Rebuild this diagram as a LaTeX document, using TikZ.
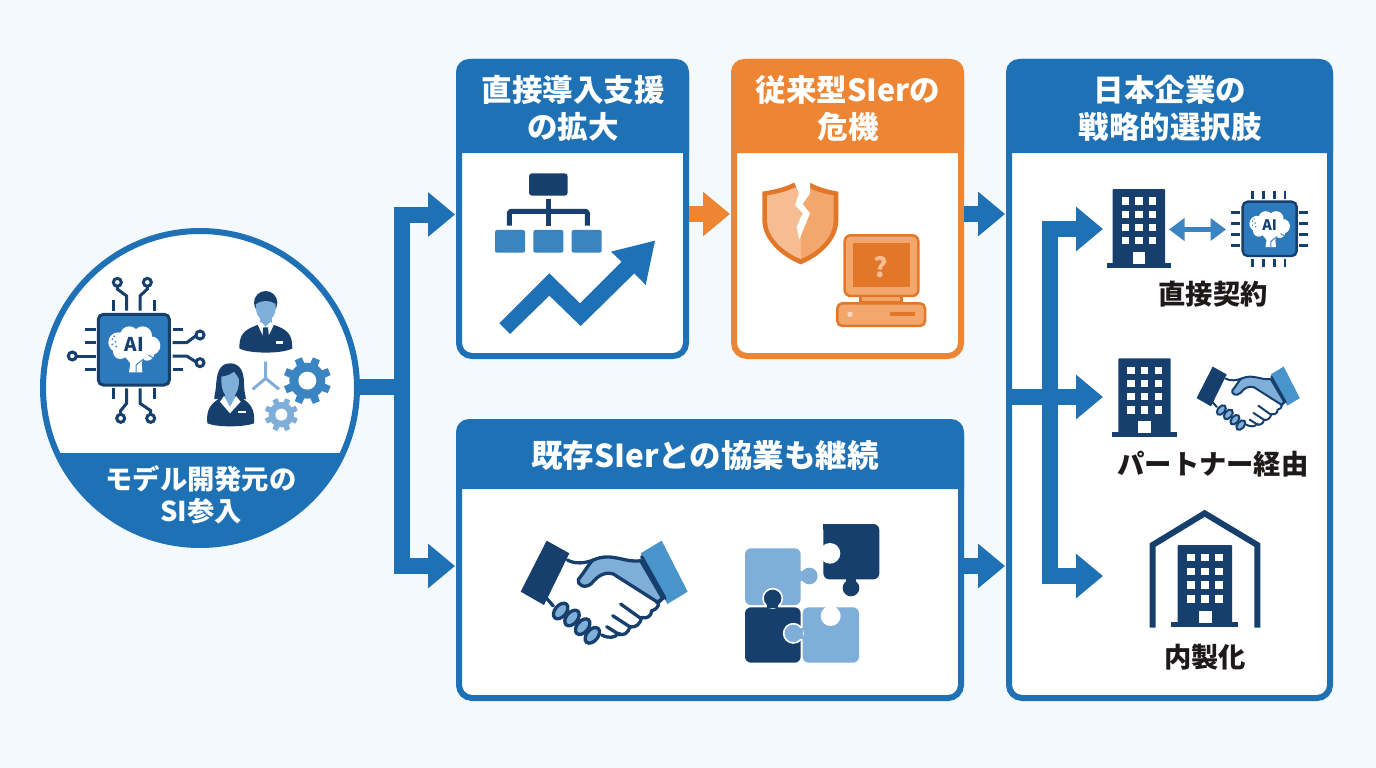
\documentclass[tikz,border=0pt]{standalone}
\usepackage{fontspec}
\usetikzlibrary{arrows.meta,calc}
\newfontfamily\cjk{Noto Sans CJK JP}
\setmainfont{Noto Sans CJK JP}
\definecolor{bgc}{HTML}{F4F9FD}
\definecolor{mainb}{HTML}{1E71B5}
\definecolor{navyb}{HTML}{163F6E}
\definecolor{midb}{HTML}{3A84C2}
\definecolor{lightb}{HTML}{7FAED8}
\definecolor{cuffb}{HTML}{4A94CC}
\definecolor{chipb}{HTML}{2C79BC}
\definecolor{orangem}{HTML}{EE8533}
\definecolor{oranged}{HTML}{E2772A}
\definecolor{orangel}{HTML}{F7BD92}
\definecolor{orangen}{HTML}{F3A76C}
\definecolor{inkc}{HTML}{1E1A1A}
\tikzset{
  cardbox/.style={draw=#1,fill=white,line width=6pt,rounded corners=13pt,inner sep=0pt,outer sep=0pt},
  headtxt/.style={text=white,align=center,inner sep=0pt,font=\cjk\bfseries\fontsize{30.5}{37}\selectfont},
  captxt/.style={text=white,align=center,inner sep=0pt,font=\cjk\bfseries\fontsize{27.3}{32}\selectfont},
  labtxt/.style={text=inkc,align=center,inner sep=0pt,font=\cjk\bfseries\fontsize{27.3}{32}\selectfont},
  conn/.style={draw=mainb,line width=16pt,line join=miter,line cap=butt},
  tipped/.style={conn,-{Triangle[length=27pt,width=43pt]}},
  tippedo/.style={tipped,draw=orangem,fill=orangem},
  zoomed/.style={x=0.33333pt,y=-0.33333pt},
  navyline/.style={draw=navyb,line width=3pt,line cap=butt},
  ringpin/.style={draw=navyb,line width=3pt,fill=white},
}
% building: top-left of body, scale
\newcommand{\bldg}[3]{%
\begin{scope}[shift={(#1,#2)},scale=#3]
\fill[navyb,rounded corners=1pt] (0,0) rectangle (52.3,76);
\fill[navyb] (-6,74) rectangle (58.3,79);
\foreach \cx in {9,22.7,36.3}\foreach \cy in {8.3,21.7,34.7,48}{\fill[white] (\cx,\cy) rectangle ++(7.3,7.3);}
\fill[white] (20,63) rectangle (32.7,75);
\end{scope}}
% brain at centre, in zoomed scope
\newcommand{\brainai}[4]{%
\begin{scope}[shift={(#1,#2)},scale=#3]
\fill[white] (-48,-18) circle (30) (-15,-38) circle (28) (25,-38) circle (28) (50,-8) circle (28) (-42,10) circle (22) (0,-5) circle (42) (38,15) circle (22);
\fill[white] (-28,25) -- (28,25) -- (22,45) -- (24,72) -- (-16,72) -- (-12,45) -- cycle;
\draw[midb,line width=1pt] (5,72) -- (5,50) -- (28,32) (42,20) -- (55,28);
\fill[midb] (-66,-28) circle (3) (-56,-20) circle (3) (-66,-12) circle (3) (-54,-6) circle (3) (-60,-36) circle (3);
\end{scope}
\node[inner sep=0pt,text=navyb,font=\cjk\bfseries\fontsize{#4}{#4}\selectfont] at (#1,#2-13*#3) {AI};}
% handshake in the coordinates of a 3x crop
\newcommand{\shake}[4]{%
\begin{scope}[shift={(#1,#2)},x=#3pt,y=-#3pt]
\fill[navyb] (110,32) -- (178,70) -- (102,225) -- (32,185) -- cycle;
\fill[cuffb] (392,70) -- (455,32) -- (533,185) -- (472,222) -- cycle;
\draw[navyb,line width=#4pt,line cap=round,line join=round,fill=white] (445,215) .. controls (448,232) and (435,240) .. (425,242) .. controls (425,258) and (410,268) .. (395,262) .. controls (392,282) and (375,295) .. (360,290) .. controls (355,310) and (338,320) .. (325,310) .. controls (315,325) and (295,325) .. (275,315);
\draw[navyb,line width=#4pt,line cap=round,fill=lightb,line join=round] (392,92) .. controls (345,100) and (305,65) .. (250,90) .. controls (240,95) and (225,125) .. (205,148) .. controls (200,165) and (225,178) .. (245,160) .. controls (265,135) and (285,125) .. (310,132) -- (445,218) -- (458,205) -- cycle;
\draw[navyb,line width=#4pt,line cap=round] (172,90) .. controls (195,103) and (225,100) .. (250,90);
\draw[navyb,line width=#4pt,line cap=round] (110,205) -- (130,228);
\draw[navyb,line width=#4pt,line cap=round] (395,80) -- (465,205);
\draw[navyb,line width=#4pt,line cap=round] (458,205) -- (440,218);
\draw[navyb,line width=#4pt,line cap=round] (332,222) -- (392,265) (308,257) -- (362,292) (290,290) -- (330,315);
\foreach \ex/\ey in {152/243,186/264,218/290,247/316}{
\draw[navyb,line width=#4pt,fill=lightb,shift={(\ex,\ey)},rotate=50] (0,0) ellipse (27 and 17);}
\end{scope}}
\newcommand{\cog}[7]{%
\begin{scope}[shift={(#1,#2)}]
\fill[#7] (0,0) circle (#4);
\foreach \a in {0,45,...,315}{\fill[#7,rotate=\a+22.5] (-#6,0) -- (-#6*0.8,#3) -- (#6*0.8,#3) -- (#6,0) -- cycle;}
\fill[white] (0,0) circle (#5);
\end{scope}}
\newcommand{\shieldpath}{(937,425) .. controls (970,420) and (1005,412) .. (1032,398) -- (1080,398) .. controls (1105,412) and (1135,420) .. (1165,425) -- (1165,510) .. controls (1165,570) and (1110,620) .. (1052,643) .. controls (995,620) and (937,570) .. (937,510) -- cycle}
\begin{document}
\begin{tikzpicture}[x=1pt,y=-1pt]
\useasboundingbox (0,0) rectangle (1376,768);
\fill[bgc] (0,0) rectangle (1376,768);

% cards
\node[cardbox=mainb,minimum width=227pt,minimum height=294pt] (c1) at (572.5,209) {};
\node[cardbox=orangem,minimum width=227pt,minimum height=294pt] (c2) at (847.5,209) {};
\node[cardbox=mainb,minimum width=321pt,minimum height=636pt] (c3) at (1169.5,380) {};
\node[cardbox=mainb,minimum width=502pt,minimum height=276pt] (c4) at (710,560) {};
\fill[mainb] (456,153) [rounded corners=13pt] -- (456,59) -- (689,59) [sharp corners] -- (689,153) -- cycle;
\fill[orangem] (731,153) [rounded corners=13pt] -- (731,59) -- (964,59) [sharp corners] -- (964,153) -- cycle;
\fill[mainb] (1006,153) [rounded corners=13pt] -- (1006,59) -- (1333,59) [sharp corners] -- (1333,153) -- cycle;
\fill[mainb] (456,489) [rounded corners=13pt] -- (456,419) -- (964,419) [sharp corners] -- (964,489) -- cycle;
\node[headtxt] (t1) at (573,108) {直接導入支援\\の拡大};
\node[headtxt] (t2) at (848,108) {従来型SIerの\\危機};
\node[headtxt] (t3) at (1170,108) {日本企業の\\戦略的選択肢};
\node[headtxt,font=\cjk\bfseries\fontsize{31.5}{37}\selectfont] (t4) at (705,456) {既存SIerとの協業も継続};

% circle
\node[circle,draw=mainb,fill=white,line width=6pt,minimum size=314pt,inner sep=0pt,outer sep=0pt] (circ) at (200,388) {};
\begin{scope}
\clip (200,388) circle (157);
\fill[mainb] (30,453) rectangle (370,560);
\end{scope}
\node[captxt] (t5) at (201,495) {モデル開発元の\\SI参入};

% connectors
\coordinate (hubL) at (402,387);
\draw[conn] (hubL -| circ.east) -- (hubL);
\draw[tipped,shorten >=4pt] (hubL) |- ([yshift=-5.5pt]c1.west);
\draw[tipped,shorten >=4pt] (hubL) |- ([yshift=-6pt]c4.west);
\draw[tippedo,shorten <=3pt,shorten >=4pt] ([yshift=-5pt]c1.east) -- ([yshift=-5pt]c2.west);
\path ([yshift=-5pt]c2.east) coordinate (s23);
\draw[tipped,shorten <=3pt,shorten >=4pt] (s23) -- (s23 -| c3.west);
\path ([yshift=-6pt]c4.east) coordinate (s43);
\draw[tipped,shorten <=3pt,shorten >=4pt] (s43) -- (s43 -| c3.west);
\coordinate (hubR) at (1049.5,397);
\coordinate (q1) at (1103,229);
\coordinate (q2) at (1103,397);
\coordinate (q3) at (1103,576);
\draw[tipped] (hubR -| c3.west) -- (q2);
\draw[tipped] (hubR) |- (q1);
\draw[tipped] (hubR) |- (q3);

% left chip
\begin{scope}[shift={(30,220)},zoomed]
\draw[navyline] (250,240) -- (250,272) (373,240) -- (373,272) (250,505) -- (250,537) (373,505) -- (373,537);
\draw[navyline] (165,327) -- (197,327) (165,368) -- (197,368) (165,447) -- (197,447) (428,327) -- (460,327) (428,447) -- (460,447);
\draw[navyline] (262,199) -- (262,207) -- (290,228) -- (290,272);
\draw[navyline] (352,199) -- (352,207) -- (330,228) -- (330,272);
\draw[navyline] (290,505) -- (290,550) -- (272,572) -- (272,583);
\draw[navyline] (330,505) -- (330,550) -- (362,572) -- (362,583);
\draw[navyline] (139,408) -- (197,408);
\draw[navyline] (428,368) -- (470,368) -- (497,348);
\draw[navyline] (428,408) -- (470,408) -- (497,425);
\draw[ringpin] (262,187) circle (12) (352,187) circle (12) (272,595) circle (12) (362,595) circle (12) (127,408) circle (12) (510,345) circle (12) (510,428) circle (12);
\draw[navyb,fill=chipb,line width=3pt,rounded corners=5pt] (205,283) rectangle (418,495);
\brainai{313}{385}{1}{19}
% people
\draw[lightb,line width=3pt] (707,425) -- (707,475) (668,508) -- (707,475) -- (747,508);
\fill[navyb] (707,248) circle (35);
\fill[lightb] (678,252) .. controls (695,240) and (720,240) .. (737,252) -- (737,270) .. controls (732,295) and (716,305) .. (707,305) .. controls (698,305) and (683,295) .. (678,270) -- cycle;
\fill[navyb] (628,385) .. controls (628,345) and (640,330) .. (682,315) -- (733,315) .. controls (775,330) and (787,345) .. (787,385) .. controls (760,402) and (655,402) .. (628,385) -- cycle;
\fill[lightb] (690,290) rectangle (725,318);
\fill[white] (684,316) -- (692,306) -- (707,320) -- (722,306) -- (731,316) -- (707,365) -- cycle;
\fill[navyb] (700,322) -- (714,322) -- (717,352) -- (707,370) -- (697,352) -- cycle;
\fill[white] (738,364) -- (760,364) -- (760,371) -- (738,371) -- cycle;
\fill[navyb] (600,430) .. controls (565,430) and (560,465) .. (558,500) .. controls (556,520) and (552,530) .. (553,537) -- (648,537) .. controls (645,520) and (642,510) .. (642,490) .. controls (642,455) and (630,430) .. (600,430) -- cycle;
\fill[navyb] (532,610) .. controls (528,570) and (540,550) .. (578,530) -- (628,530) .. controls (665,550) and (675,570) .. (672,610) .. controls (640,622) and (560,622) .. (532,610) -- cycle;
\fill[lightb] (574,470) .. controls (590,468) and (605,462) .. (612,455) .. controls (618,465) and (625,470) .. (627,478) .. controls (628,510) and (615,532) .. (600,535) .. controls (585,532) and (572,510) .. (574,470) -- cycle;
\fill[lightb] (585,515) rectangle (615,550);
\fill[white] (570,545) -- (582,528) -- (600,558) -- (618,528) -- (632,545) -- (600,580) -- cycle;
\fill[lightb] (582,528) -- (618,528) -- (600,560) -- cycle;
\fill[white] (625,573) -- (648,573) -- (648,580) -- (625,580) -- cycle;
\cog{832}{482}{71}{54}{27}{14}{midb}
\cog{754}{584}{50}{38}{18}{10}{lightb}
\end{scope}

% card 1 icons
\begin{scope}[shift={(450,50)},zoomed]
\fill[navyb,rounded corners=3pt] (237,370) rectangle (353,437);
\draw[navyb,line width=5pt,line join=round,rounded corners=2pt] (178,527) -- (178,484) -- (412,484) -- (412,527);
\draw[navyb,line width=5pt] (295,447) -- (295,527);
\fill[midb,rounded corners=2pt] (135,540) rectangle (225,608) (250,540) rectangle (340,608) (365,540) rectangle (455,608);
\fill[mainb] (148,820) -- (298,670) -- (390,760) -- (515,635) -- (483,605) -- (615,572) -- (587,705) -- (553,670) -- (392,828) -- (298,737) -- (180,852) -- cycle;
% shield
\fill[oranged] \shieldpath;
\begin{scope}[shift={(1051,515)},scale=0.875,shift={(-1051,-515)}]
\clip \shieldpath;
\fill[orangel] (930,380) rectangle (1052,650);
\fill[orangen] (1052,380) rectangle (1170,650);
\end{scope}
\fill[white] (1032,395) -- (1047,430) -- (1035,465) -- (1058,490) -- (1040,530) -- (1048,568) -- (1080,490) -- (1058,462) -- (1080,430) -- (1080,395) -- cycle;
% computer
\draw[oranged,fill=orangen,line width=2.5pt] (1232,738) rectangle (1355,758);
\draw[oranged,fill=orangen,line width=2.5pt,rounded corners=6pt] (1184,556) rectangle (1405,738);
\fill[oranged] (1208,580) rectangle (1380,710);
\node[inner sep=0pt,text=orangel,font=\cjk\bfseries\fontsize{27}{27}\selectfont] at (1293,650) {?};
\draw[oranged,fill=orangen,line width=2.5pt,rounded corners=5pt] (1162,828) -- (1162,760) -- (1425,760) -- (1425,828) -- cycle;
\fill[white!40!orangel] (1200,793) circle (8);
\fill[oranged] (1320,787) rectangle (1396,798);
\end{scope}

% card 4 icons
\shake{510}{530}{0.33333}{3.3}
\begin{scope}[shift={(490,510)},zoomed]
\fill[lightb,rounded corners=6pt] (765,285) -- (765,115) -- (932,115) -- (932,285) -- cycle;
\fill[lightb] (958,198) circle (25);
\fill[lightb] (925,183) rectangle (945,213);
\fill[navyb,rounded corners=6pt] (1000,208) -- (1000,42) -- (1168,42) -- (1168,208) -- cycle;
\fill[navyb] (1000,42) rectangle (1050,60);
\fill[white] (1020,130) circle (31);
\fill[navyb] (1083,234) circle (25);
\fill[navyb] (1068,205) rectangle (1098,222);
\fill[navyb,rounded corners=6pt] (765,292) -- (765,458) -- (932,458) -- (932,292) -- cycle;
\fill[lightb,rounded corners=6pt] (938,292) -- (938,458) -- (1107,458) -- (1107,292) -- cycle;
\fill[white] (1022,318) circle (30);
\draw[white,line width=1.6pt,fill=navyb] (848,265) circle (29);
\fill[navyb] (832,275) rectangle (864,294);
\draw[white,line width=1.6pt,fill=lightb] (910,370) circle (29);
\fill[lightb] (920,354) rectangle (940,386);
\end{scope}

% card 3 icons
\bldg{1112.7}{189}{1}
\bldg{1118.3}{358.3}{1}
\bldg{1177.7}{545}{1.04}
\coordinate (da) at (1169,229.5);
\coordinate (db) at (1226,229.5);
\draw[draw=midb,line width=5.5pt,{Triangle[length=15.5pt,width=22pt]}-{Triangle[length=15.5pt,width=22pt]}] (da) -- (db);
\begin{scope}[shift={(1000,170)},zoomed]
\draw[navyline,line width=2.4pt] (758,62) -- (758,88) (790,62) -- (790,88) (823,62) -- (823,88) (855,62) -- (855,88);
\draw[navyline,line width=2.4pt] (758,266) -- (758,292) (790,266) -- (790,292) (823,266) -- (823,292) (855,266) -- (855,292);
\draw[navyline,line width=2.4pt] (694,127) -- (720,127) (694,160) -- (720,160) (694,193) -- (720,193) (694,226) -- (720,226);
\draw[navyline,line width=2.4pt] (898,127) -- (924,127) (898,160) -- (924,160) (898,193) -- (924,193) (898,226) -- (924,226);
\draw[navyb,fill=chipb,line width=2.4pt,rounded corners=5pt] (728,95) rectangle (890,258);
\brainai{809}{175}{0.78}{14.5}
\end{scope}
\shake{1190}{360}{0.206}{2}
\begin{scope}[shift={(1000,500)},zoomed]
\draw[navyb,line width=6pt,line join=miter] (458,383) -- (458,135) -- (614,40) -- (772,135) -- (772,383);
\end{scope}
\node[labtxt] (l1) at (1213,294) {直接契約};
\node[labtxt] (l2) at (1213,464) {パートナー経由};
\node[labtxt] (l3) at (1205,657) {内製化};
\end{tikzpicture}
\end{document}
